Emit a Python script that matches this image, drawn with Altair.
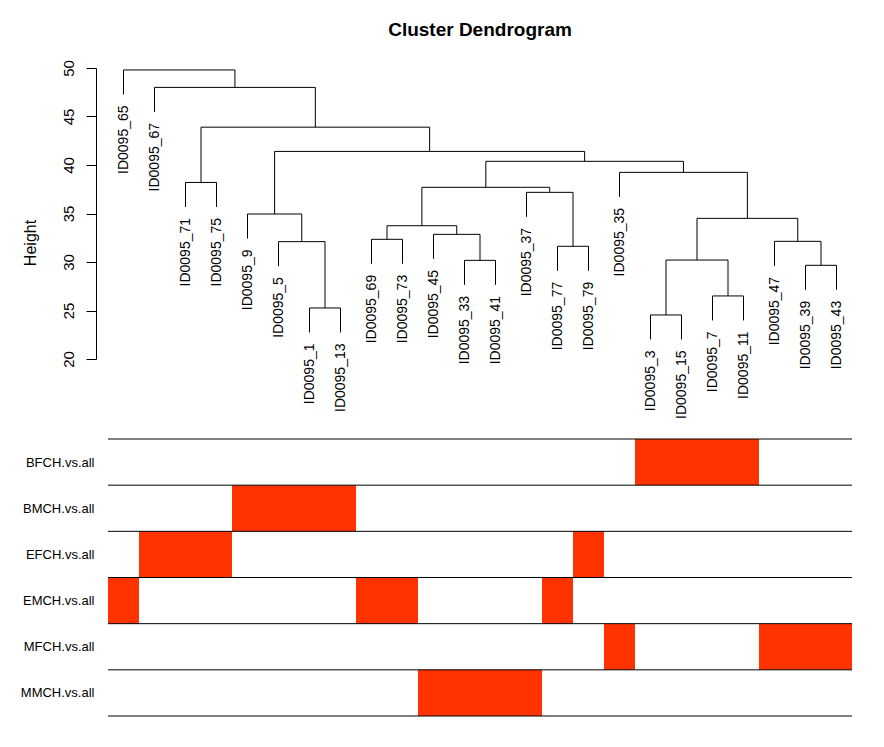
import altair as alt
import pandas as pd

# ---- data ----
leaves = ["ID0095_65", "ID0095_67", "ID0095_71", "ID0095_75", "ID0095_9", "ID0095_5",
          "ID0095_1", "ID0095_13", "ID0095_69", "ID0095_73", "ID0095_45", "ID0095_33",
          "ID0095_41", "ID0095_37", "ID0095_77", "ID0095_79", "ID0095_35", "ID0095_3",
          "ID0095_15", "ID0095_7", "ID0095_11", "ID0095_47", "ID0095_39", "ID0095_43"]

# merges: children are leaf names (str) or earlier merge indices (int)
merge_left = ["ID0095_3", "ID0095_1", "ID0095_7", "ID0095_39", "ID0095_33", 0,
              "ID0095_77", "ID0095_47", "ID0095_5", "ID0095_69", "ID0095_45", 9,
              5, "ID0095_9", "ID0095_37", 11, "ID0095_71", "ID0095_35", 15, 13, 16,
              "ID0095_67", "ID0095_65"]
merge_right = ["ID0095_15", "ID0095_13", "ID0095_11", "ID0095_43", "ID0095_41", 2,
               "ID0095_79", 3, 1, "ID0095_73", 4, 10,
               7, 8, 6, 14, "ID0095_75", 12, 17, 18, 19,
               20, 21]
merge_height = [24.54, 25.26, 26.5, 29.66, 30.17, 30.2,
                31.62, 32.13, 32.1, 32.34, 32.85, 33.74,
                34.5, 34.95, 37.18, 37.7, 38.2, 39.24, 40.38, 41.4, 43.9,
                48.0, 49.8]

traits = ["BFCH.vs.all", "BMCH.vs.all", "EFCH.vs.all", "EMCH.vs.all", "MFCH.vs.all", "MMCH.vs.all"]
bfch = [0, 0, 0, 0, 0, 0, 0, 0, 0, 0, 0, 0, 0, 0, 0, 0, 0, 1, 1, 1, 1, 0, 0, 0]
bmch = [0, 0, 0, 0, 1, 1, 1, 1, 0, 0, 0, 0, 0, 0, 0, 0, 0, 0, 0, 0, 0, 0, 0, 0]
efch = [0, 1, 1, 1, 0, 0, 0, 0, 0, 0, 0, 0, 0, 0, 0, 1, 0, 0, 0, 0, 0, 0, 0, 0]
emch = [1, 0, 0, 0, 0, 0, 0, 0, 1, 1, 0, 0, 0, 0, 1, 0, 0, 0, 0, 0, 0, 0, 0, 0]
mfch = [0, 0, 0, 0, 0, 0, 0, 0, 0, 0, 0, 0, 0, 0, 0, 0, 1, 0, 0, 0, 0, 1, 1, 1]
mmch = [0, 0, 0, 0, 0, 0, 0, 0, 0, 0, 1, 1, 1, 1, 0, 0, 0, 0, 0, 0, 0, 0, 0, 0]
trait_values = [bfch, bmch, efch, emch, mfch, mmch]

FONT = "Liberation Sans"
RED = "#FF3300"

# ---- build dendrogram segments ----
hang = 0.1 * (max(merge_height) - min(merge_height))
leaf_pos = {name: i for i, name in enumerate(leaves)}
node_x, node_h = {}, {}
segs, leaf_rows = [], []
for k, (a, b, h) in enumerate(zip(merge_left, merge_right, merge_height)):
    xs = []
    for c in (a, b):
        if isinstance(c, str):
            x = leaf_pos[c]
            bottom = h - hang
            leaf_rows.append({"x": x, "y": bottom, "label": c})
        else:
            x = node_x[c]
            bottom = node_h[c]
        segs.append({"x": x, "x2": x, "y": bottom, "y2": h})
        xs.append(x)
    segs.append({"x": xs[0], "x2": xs[1], "y": h, "y2": h})
    node_x[k] = (xs[0] + xs[1]) / 2
    node_h[k] = h

seg_df = pd.DataFrame(segs)
leaf_df = pd.DataFrame(leaf_rows)

xscale = alt.Scale(domain=[-0.5, len(leaves) - 0.5], nice=False, zero=False)
yscale = alt.Scale(domain=[20, 50], nice=False, zero=False)

yaxis = alt.Axis(values=[20, 25, 30, 35, 40, 45, 50], title="Height", grid=False, offset=12,
                 labelAngle=270, labelAlign="center", labelBaseline="alphabetic",
                 labelFontSize=15, labelFont=FONT, labelColor="black", labelPadding=13,
                 tickSize=10, tickColor="black", domainColor="black",
                 titleFont=FONT, titleFontSize=16, titleFontWeight="normal", titleColor="black",
                 titleAngle=270, titleBaseline="alphabetic", titleX=-61, titleY=174.5)

dendro = alt.Chart(seg_df).mark_rule(color="black", strokeWidth=1).encode(
    x=alt.X("x:Q", scale=xscale, axis=None),
    x2="x2:Q",
    y=alt.Y("y:Q", scale=yscale, axis=yaxis),
    y2="y2:Q",
)

labels = alt.Chart(leaf_df).mark_text(angle=270, align="right", baseline="middle", dx=-11,
                                      fontSize=14, font=FONT, color="black").encode(
    x=alt.X("x:Q", scale=xscale, axis=None),
    y=alt.Y("y:Q", scale=yscale),
    text="label:N",
)

top = alt.layer(dendro, labels).properties(
    width=744, height=291,
    title=alt.TitleParams("Cluster Dendrogram", fontSize=19, fontWeight="bold", font=FONT,
                          color="black", anchor="middle", offset=20),
)

# ---- colour bar ----
cells = []
for r, vals in enumerate(trait_values):
    for i, v in enumerate(vals):
        if v:
            cells.append({"x": i - 0.5, "x2": i + 0.5, "y": r, "y2": r + 1})
cell_df = pd.DataFrame(cells)
line_df = pd.DataFrame({"y": list(range(len(traits) + 1)),
                        "x": [-0.5] * (len(traits) + 1),
                        "x2": [len(leaves) - 0.5] * (len(traits) + 1)})

bscale = alt.Scale(domain=[0, len(traits)], reverse=True, nice=False, zero=False)
label_expr = "[" + ",".join("'%s'" % t for t in traits) + "][floor(datum.value)]"
baxis = alt.Axis(values=[r + 0.5 for r in range(len(traits))], labelExpr=label_expr,
                 domain=False, ticks=False, grid=False, title=None, labelFontSize=13,
                 labelFont=FONT, labelColor="black", labelPadding=14)

rects = alt.Chart(cell_df).mark_rect(color=RED, strokeWidth=0).encode(
    x=alt.X("x:Q", scale=xscale, axis=None),
    x2="x2:Q",
    y=alt.Y("y:Q", scale=bscale, axis=baxis),
    y2="y2:Q",
)
hlines = alt.Chart(line_df).mark_rule(color="black", strokeWidth=1).encode(
    x=alt.X("x:Q", scale=xscale, axis=None),
    x2="x2:Q",
    y=alt.Y("y:Q", scale=bscale),
)
bottom = alt.layer(rects, hlines).properties(width=744, height=277)

chart = alt.vconcat(top, bottom, spacing=19).properties(
    padding={"left": 20, "top": 20, "right": 5, "bottom": 5},
    background="white",
).configure_view(stroke=None)

chart.save("out.html", embed_options={"renderer": "svg", "actions": False})
